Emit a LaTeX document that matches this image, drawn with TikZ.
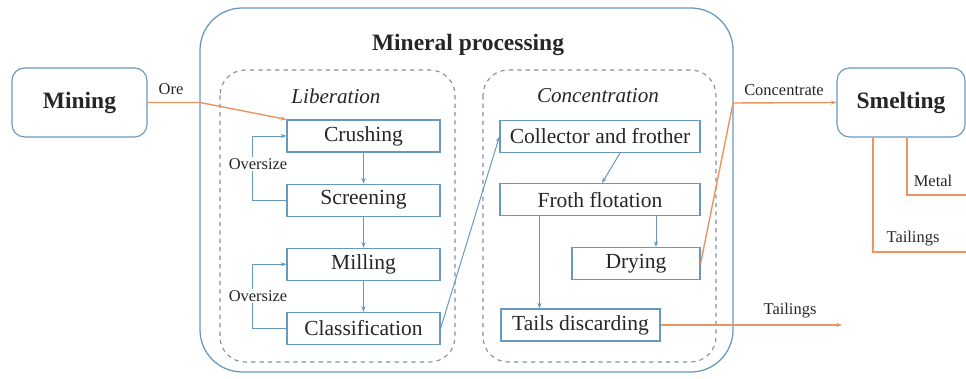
\documentclass[tikz,border=0pt]{standalone}
\usepackage{fontspec}
\setmainfont{Liberation Serif}
\usepackage{xcolor}
\usetikzlibrary{positioning,calc,arrows.meta}

\definecolor{boxblue}{RGB}{104,152,190}
\definecolor{flow}{RGB}{234,148,98}
\definecolor{dashgray}{RGB}{125,145,165}

\begin{document}
\begin{tikzpicture}[
    x=0.025cm, y=-0.025cm,
    font=\fontsize{15.3}{17}\selectfont,
    text=black!85,
    stage/.style={
        draw=boxblue,
        line width=0.8pt,
        rounded corners=9pt,
        minimum width=3.375cm,
        minimum height=1.725cm,
        fill=white,
        font=\fontsize{16.7}{19}\selectfont\bfseries
    },
    unit/.style={
        draw=boxblue,
        line width=0.8pt,
        minimum height=0.8cm,
        inner sep=1pt,
        fill=white
    },
    arrow/.style={-{Stealth[length=4pt,width=3pt]}, boxblue, line width=0.7pt},
    flowline/.style={flow, line width=1pt},
    note/.style={font=\fontsize{11.7}{13}\selectfont},
    group/.style={draw=dashgray, dashed, line width=0.8pt, rounded corners=18pt},
    heading/.style={font=\fontsize{15}{17}\selectfont\itshape},
    procbox/.style={draw=boxblue, line width=0.9pt, rounded corners=30pt}
]
\useasboundingbox (0,0) rectangle (966,379);

% outer frames
\draw[procbox] (200,8) rectangle (733,372);
\node[font=\fontsize{16.7}{19}\selectfont\bfseries] (proctitle) at (468,45) {Mineral processing};
\draw[group] (220,70) rectangle (455,362);
\draw[group] (483,70) rectangle (716,362);
\node[heading] (libtitle) at (336,96) {Liberation};
\node[heading] (contitle) at (598,96) {Concentration};

% stages
\node[stage] (mining) at (79.5,102.5) {Mining};
\node[stage, minimum width=3.2cm] (smelting) at (901,102.5) {Smelting};

% liberation
\node[unit, minimum width=3.825cm] (crushing) at (363.5,136) {Crushing};
\node[unit, minimum width=3.825cm, below=0.775cm of crushing] (screening) {Screening};
\node[unit, minimum width=3.825cm, below=0.775cm of screening] (milling) {Milling};
\node[unit, minimum width=3.825cm, below=0.775cm of milling] (classification) {Classification};

\draw[arrow] (crushing) -- (screening);
\draw[arrow] (screening) -- (milling);
\draw[arrow] (milling) -- (classification);

\draw[arrow] (screening.west) -- ++(-34,0) |- (crushing.west);
\draw[arrow] (classification.west) -- ++(-34,0) |- (milling.west);
\node[note, fill=white, inner sep=1pt] (over1) at (258,164) {Oversize};
\node[note, fill=white, inner sep=1pt] (over2) at (258,296) {Oversize};

% concentration
\node[unit, minimum width=5cm] (collector) at (600,136.5) {Collector and frother};
\node[unit, minimum width=5cm, below=0.75cm of collector] (froth) {Froth flotation};
\node[unit, minimum width=3.2cm] (drying) at (636,263.5) {Drying};
\node[unit, minimum width=3.975cm] (tails) at (580.5,325) {Tails discarding};

\draw[arrow] (classification.east) -- (collector.west);
\draw[arrow] ($(collector.south)+(20,0)$) -- ($(froth.north)+(2,0)$);
\draw[arrow] ($(froth.south)+(56,0)$) coordinate (fd) -- (fd |- drying.north);
\draw[arrow] ($(froth.south west)+(40,0)$) coordinate (ft) -- (ft |- tails.north);

% product flows
\draw[flowline, -{Stealth[length=4pt,width=3pt]}] (mining.east) -- (200,102.5) -- (crushing.north west);
\node[note] (ore) at (171,89) {Ore};

\draw[flowline, -{Stealth[length=4pt,width=3pt]}] (drying.east) -- (733,103) -- (smelting.west);
\node[note] (conc) at (784,90) {Concentrate};

\coordinate (tailend) at (842,325);
\draw[flowline, -{Stealth[length=4pt,width=3pt]}] (tails.east) -- (tailend);
\node[note] (tail1) at (790,311) {Tailings};

\coordinate (metalend) at (966,195);
\coordinate (slagend) at (966,252);
\draw[flowline] ($(smelting.south)+(6,0)$) |- (metalend);
\draw[flowline] ($(smelting.south)+(-28,0)$) |- (slagend);
\node[note] (metal) at (933,181) {Metal};
\node[note] (tail2) at (913,239) {Tailings};

\end{tikzpicture}
\end{document}
